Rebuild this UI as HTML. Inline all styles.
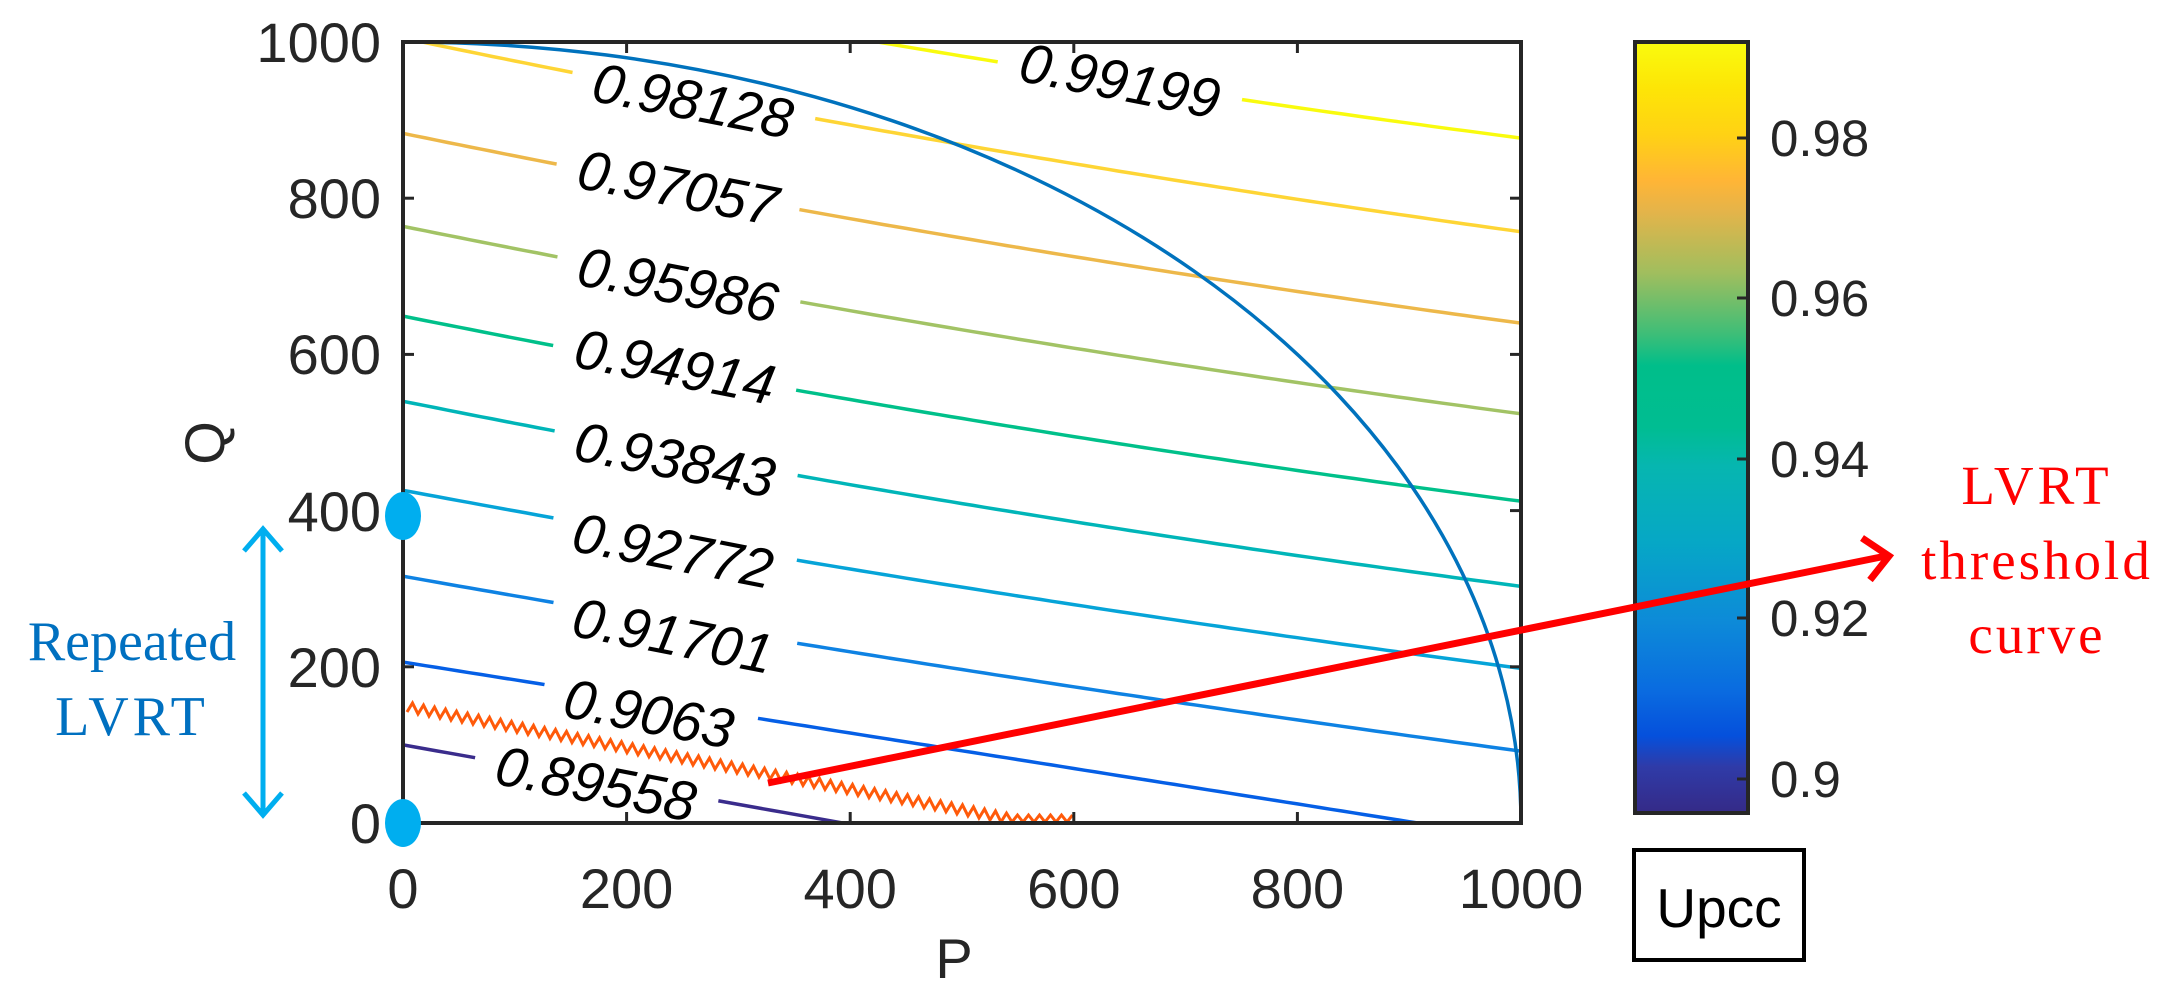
<!DOCTYPE html>
<html><head><meta charset="utf-8"><style>
html,body{margin:0;padding:0;background:#fff;}
svg{display:block;}
.ss{font-family:"Liberation Sans",Arial,sans-serif;}
.tk{font-size:56px;fill:#262626;font-family:"Liberation Sans",Arial,sans-serif;}
.cl{font-size:56px;fill:#000;font-style:italic;font-family:"Liberation Sans",Arial,sans-serif;}
.sr{font-family:"Liberation Serif","Times New Roman",serif;}
</style></head><body>
<svg id="s" width="2171" height="1008" viewBox="0 0 2171 1008" xmlns="http://www.w3.org/2000/svg">
<defs>
<linearGradient id="pg" x1="0" y1="1" x2="0" y2="0">
<stop offset="0" stop-color="#352A87"/>
<stop offset="0.06" stop-color="#2F3BA8"/>
<stop offset="0.1" stop-color="#0550DC"/>
<stop offset="0.16" stop-color="#0A6CE0"/>
<stop offset="0.25" stop-color="#0D8BD8"/>
<stop offset="0.35" stop-color="#06A7C6"/>
<stop offset="0.45" stop-color="#06B6B0"/>
<stop offset="0.5" stop-color="#00BD92"/>
<stop offset="0.58" stop-color="#00BE8A"/>
<stop offset="0.62" stop-color="#3CBE78"/>
<stop offset="0.7" stop-color="#A0BE5E"/>
<stop offset="0.78" stop-color="#E4B44A"/>
<stop offset="0.82" stop-color="#FFB536"/>
<stop offset="0.88" stop-color="#FFD214"/>
<stop offset="0.94" stop-color="#FDE506"/>
<stop offset="1" stop-color="#F9FB0E"/>
</linearGradient>
<clipPath id="pc"><rect x="403" y="42" width="1118" height="781"/></clipPath>
<mask id="lm" maskUnits="userSpaceOnUse" x="0" y="0" width="2171" height="1008">
<rect x="0" y="0" width="2171" height="1008" fill="#fff"/>
<g id="mk" fill="#000"></g>
</mask>
</defs>
<g clip-path="url(#pc)">
<g id="cont" mask="url(#lm)" fill="none" stroke-width="3.5"></g>
<path d="M403,42 A1118,781 0 0 1 1521,823" fill="none" stroke="#0072BD" stroke-width="3.5"/>
<polyline id="zz" fill="none" stroke="#FF5A0A" stroke-width="3" points=""/>
</g>
<g id="labs"></g>
<rect x="403" y="42" width="1118" height="781" fill="none" stroke="#262626" stroke-width="4"/>
<g stroke="#262626" stroke-width="3">
<line x1="626.6" y1="823" x2="626.6" y2="812"/><line x1="850.2" y1="823" x2="850.2" y2="812"/><line x1="1073.8" y1="823" x2="1073.8" y2="812"/><line x1="1297.4" y1="823" x2="1297.4" y2="812"/>
<line x1="626.6" y1="42" x2="626.6" y2="53"/><line x1="850.2" y1="42" x2="850.2" y2="53"/><line x1="1073.8" y1="42" x2="1073.8" y2="53"/><line x1="1297.4" y1="42" x2="1297.4" y2="53"/>
<line x1="403" y1="666.8" x2="414" y2="666.8"/><line x1="403" y1="510.6" x2="414" y2="510.6"/><line x1="403" y1="354.4" x2="414" y2="354.4"/><line x1="403" y1="198.2" x2="414" y2="198.2"/>
<line x1="1521" y1="666.8" x2="1510" y2="666.8"/><line x1="1521" y1="510.6" x2="1510" y2="510.6"/><line x1="1521" y1="354.4" x2="1510" y2="354.4"/><line x1="1521" y1="198.2" x2="1510" y2="198.2"/>
</g>
<g text-anchor="end">
<text class="tk" x="381" y="843">0</text><text class="tk" x="381" y="687">200</text><text class="tk" x="381" y="531">400</text><text class="tk" x="381" y="374">600</text><text class="tk" x="381" y="218">800</text><text class="tk" x="381" y="62">1000</text>
</g>
<g text-anchor="middle">
<text class="tk" x="403" y="908">0</text><text class="tk" x="626.6" y="908">200</text><text class="tk" x="850.2" y="908">400</text><text class="tk" x="1073.8" y="908">600</text><text class="tk" x="1297.4" y="908">800</text><text class="tk" x="1521" y="908">1000</text>
</g>
<text class="tk" x="954" y="978" text-anchor="middle">P</text>
<text class="tk" transform="translate(224,443) rotate(-90)" text-anchor="middle">Q</text>
<rect x="1635" y="42" width="113" height="771" fill="url(#pg)" stroke="#262626" stroke-width="4"/>
<g stroke="#262626" stroke-width="3">
<line x1="1748" y1="138" x2="1737" y2="138"/><line x1="1748" y1="298" x2="1737" y2="298"/><line x1="1748" y1="459" x2="1737" y2="459"/><line x1="1748" y1="618" x2="1737" y2="618"/><line x1="1748" y1="779" x2="1737" y2="779"/>
</g>
<g>
<text class="tk" style="font-size:51px" x="1770" y="156">0.98</text><text class="tk" style="font-size:51px" x="1770" y="316">0.96</text><text class="tk" style="font-size:51px" x="1770" y="477">0.94</text><text class="tk" style="font-size:51px" x="1770" y="636">0.92</text><text class="tk" style="font-size:51px" x="1770" y="797">0.9</text>
</g>
<rect x="1634" y="850" width="170" height="110" fill="#fff" stroke="#000" stroke-width="4"/>
<text class="ss" x="1719" y="927" text-anchor="middle" style="font-size:55px;fill:#000">Upcc</text>
<line x1="768" y1="783" x2="1886" y2="556" stroke="#FF0000" stroke-width="7"/>
<polyline points="1862,538 1889,556 1870,580" fill="none" stroke="#FF0000" stroke-width="7"/>
<g fill="#FF0000" text-anchor="middle">
<text class="sr" style="font-size:55px;letter-spacing:4px" x="2037" y="504">LVRT</text>
<text class="sr" style="font-size:55px;letter-spacing:3px" x="2037" y="579">threshold</text>
<text class="sr" style="font-size:55px;letter-spacing:3px" x="2037" y="653">curve</text>
</g>
<ellipse cx="403" cy="516" rx="18" ry="24" fill="#00AEEF"/>
<ellipse cx="403" cy="823" rx="18" ry="24" fill="#00AEEF"/>
<g stroke="#00AEEF" stroke-width="5" fill="none">
<line x1="263" y1="530" x2="263" y2="814"/>
<polyline points="244,551 263,529 282,551"/>
<polyline points="244,793 263,815 282,793"/>
</g>
<g fill="#0070C0" text-anchor="middle">
<text class="sr" style="font-size:56px" x="132" y="660">Repeated</text>
<text class="sr" style="font-size:56px;letter-spacing:4px" x="132" y="735">LVRT</text>
</g>
</svg>
<script>
(function(){
var NS="http://www.w3.org/2000/svg";
function X(p){return 403+1.118*p;} function Y(q){return 823-0.781*q;}
var L=[
["0.99199","#F9FB0E",1112,877,1120,80,0.00005],
["0.98128","#FED535",1005,757,693,100,0.00005],
["0.97057","#EDB84A",883,640,678,187,0.00005],
["0.95986","#A2C365",764,524,678,284,0.00005],
["0.94914","#00C08A",649,412,675,366,0.00005],
["0.93843","#00B5B8",540,303,675,459,0.00005],
["0.92772","#06A4D8",426,198,673,550,0.00004],
["0.91701","#0E82E3",316,92,673,635,0.00003],
["0.9063","#055FE6",206,-21,649,713,0],
["0.89558","#3A2C8C",100,-154,596,783,0]
];
var cont=document.getElementById("cont"),mk=document.getElementById("mk"),labs=document.getElementById("labs");
L.forEach(function(l){
 var b=l[6];
 var a=(l[2]-l[3])/1000+b*1000;
 var d="";
 for(var p=0;p<=1000;p+=10){var q=l[2]-a*p+b*p*p;d+=(p?"L":"M")+X(p).toFixed(1)+","+Y(q).toFixed(1);}
 var e=document.createElementNS(NS,"path");e.setAttribute("d",d);e.setAttribute("stroke",l[1]);cont.appendChild(e);
 var w=l[0].length*31+30;
 var r=document.createElementNS(NS,"rect");r.setAttribute("x",-w/2);r.setAttribute("y",-26);r.setAttribute("width",w);r.setAttribute("height",52);
 r.setAttribute("transform","translate("+l[4]+","+l[5]+") rotate(11)");mk.appendChild(r);
 var t=document.createElementNS(NS,"text");t.setAttribute("class","cl");t.setAttribute("text-anchor","middle");
 t.setAttribute("transform","translate("+l[4]+","+(l[5])+") rotate(11)");t.setAttribute("y","20");t.textContent=l[0];labs.appendChild(t);
});
var pts=[];var x0=407,y0=707,x1=1017,y1=820;
for(var x=x0,i=0;x<=1073;x+=5.5,i++){
 var yb=x<=x1?y0+(y1-y0)*(x-x0)/(x1-x0):y1;
 var off=(i%2?-5:5);
 pts.push(x.toFixed(1)+","+(Math.min(yb+off,822)).toFixed(1));
}
document.getElementById("zz").setAttribute("points",pts.join(" "));
})();
</script>
</body></html>
